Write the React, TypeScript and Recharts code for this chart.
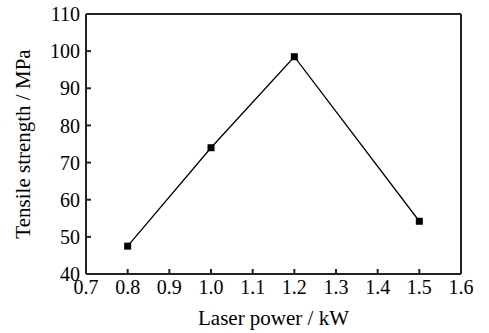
import { LineChart, Line, XAxis, YAxis, ReferenceLine } from "recharts";

// Laser power (kW) vs tensile strength (MPa)
const laserPower = [0.8, 1.0, 1.2, 1.5];
const tensileStrength = [47.5, 74, 98.5, 54.2];
const xTicks = [0.7, 0.8, 0.9, 1.0, 1.1, 1.2, 1.3, 1.4, 1.5, 1.6];
const yTicks = [40, 50, 60, 70, 80, 90, 100, 110];

const data = laserPower.map((p, i) => ({ power: p, strength: tensileStrength[i] }));

const FONT = "'Liberation Serif', 'DejaVu Serif', serif";
const AXIS = "#222";

function SquareDot(props: any) {
  const { cx, cy, index } = props;
  if (cx == null || cy == null) return null;
  return <rect key={`sq-${index}`} x={cx - 3.5} y={cy - 3.5} width={7} height={7} fill="#000" />;
}

function YLabel(props: any) {
  const vb = props.viewBox || {};
  const x = vb.x + 30;
  const y = vb.y + vb.height / 2;
  return (
    <text
      x={x}
      y={y}
      transform={`rotate(-90, ${x}, ${y})`}
      textAnchor="middle"
      fontFamily={FONT}
      fontSize={21}
      fill="#000"
    >
      Tensile strength / MPa
    </text>
  );
}

export default function App() {
  return (
    <div style={{ position: "absolute", left: 0, top: 0, background: "#fff" }}>
      <LineChart width={489} height={333} data={data} margin={{ top: 14, right: 28, bottom: 0, left: 0 }}>
        <XAxis
          type="number"
          dataKey="power"
          domain={[0.7, 1.6]}
          ticks={xTicks}
          tickFormatter={(v: number) => v.toFixed(1)}
          height={59}
          tickSize={-5}
          tickMargin={11}
          stroke={AXIS}
          strokeWidth={2}
          tick={{ fill: "#000", fontSize: 20, fontFamily: FONT }}
          interval={0}
          label={{ value: "Laser power / kW", position: "insideBottom", offset: 8, fill: "#000", fontSize: 21, fontFamily: FONT }}
        />
        <YAxis
          type="number"
          domain={[40, 110]}
          ticks={yTicks}
          width={86}
          tickSize={-5}
          tickMargin={11}
          stroke={AXIS}
          strokeWidth={2}
          tick={{ fill: "#000", fontSize: 20, fontFamily: FONT }}
          interval={0}
          label={<YLabel />}
        />
        <ReferenceLine y={110} stroke={AXIS} strokeWidth={2} />
        <ReferenceLine x={1.6} stroke={AXIS} strokeWidth={2} />
        <Line
          type="linear"
          dataKey="strength"
          stroke="#000"
          strokeWidth={1.3}
          dot={<SquareDot />}
          isAnimationActive={false}
        />
      </LineChart>
    </div>
  );
}
